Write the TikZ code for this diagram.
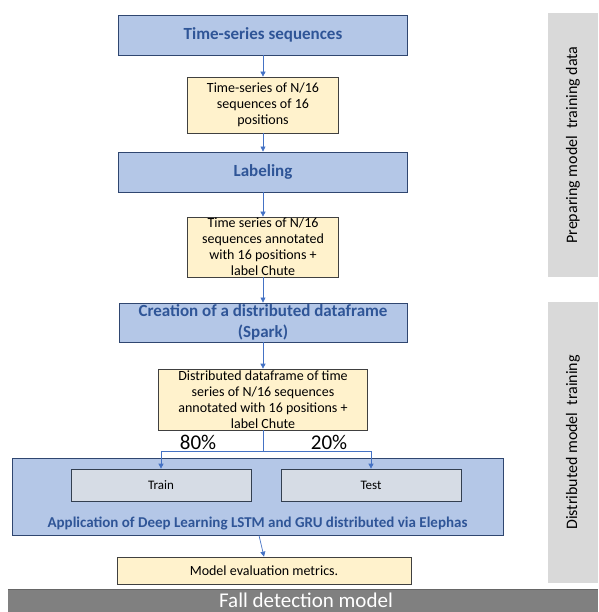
\documentclass[tikz,border=0pt]{standalone}
\usepackage{fontspec}
\setmainfont{Carlito}
\usetikzlibrary{arrows.meta}
\definecolor{bluefill}{HTML}{B4C7E7}
\definecolor{blueline}{HTML}{2F4670}
\definecolor{bluetext}{HTML}{2F5597}
\definecolor{yelfill}{HTML}{FFF2CC}
\definecolor{yelline}{HTML}{404040}
\definecolor{grayfill}{HTML}{D6DCE5}
\definecolor{grayline}{HTML}{333F50}
\definecolor{panelfill}{HTML}{D9D9D9}
\definecolor{barfill}{HTML}{808080}
\definecolor{arrowcol}{HTML}{4472C4}
\begin{document}
\begin{tikzpicture}[x=1pt,y=-1pt,
  bluebox/.style={draw=blueline, fill=bluefill, line width=0.9pt, inner sep=0pt, align=center,
    text=bluetext, font=\bfseries\fontsize{17}{21}\selectfont},
  yelbox/.style={draw=yelline, fill=yelfill, line width=0.7pt, inner sep=0pt, align=center,
    font=\fontsize{14}{16}\selectfont},
  graybox/.style={draw=grayline, fill=grayfill, line width=0.7pt, inner sep=0pt, align=center,
    font=\fontsize{13}{15}\selectfont},
  panel/.style={fill=panelfill, inner sep=0pt},
  paneltext/.style={rotate=90, font=\fontsize{16}{18}\selectfont},
  conn/.style={draw=arrowcol, line width=0.7pt},
  arr/.style={conn, -{Triangle[width=5pt,length=5pt]}},
  pct/.style={font=\fontsize{21}{22}\selectfont}
]
\useasboundingbox (0,0) rectangle (598,612);
% side panels
\node[panel, minimum width=50, minimum height=264] (p1) at (573,145) {};
\node[paneltext] (p1t) at (p1.center) {Preparing model\ \ training data};
\node[panel, minimum width=50, minimum height=281] (p2) at (573,442.5) {};
\node[paneltext] (p2t) at (p2.center) {Distributed model\ \ training};
% flow
\node[bluebox, minimum width=289, minimum height=40] (b1) at (263,35) {Time-series sequences};
\node[yelbox, minimum width=151, minimum height=56] (b2) at (263,105) {Time-series of N/16\\sequences of 16\\positions};
\node[bluebox, minimum width=289, minimum height=40] (b3) at (263,172) {Labeling};
\node[yelbox, minimum width=151, minimum height=60] (b4) at (263,247) {Time series of N/16\\sequences annotated\\with 16 positions +\\label Chute};
\node[bluebox, minimum width=288, minimum height=39] (b5) at (263,322.5) {Creation of a distributed dataframe\\(Spark)};
\node[yelbox, minimum width=209, minimum height=61] (b6) at (263,399.5) {Distributed dataframe of time\\series of N/16 sequences\\annotated with 16 positions +\\label Chute};
\node[pct] (l80) at (198,442) {80\%};
\node[pct] (l20) at (329,442) {20\%};
\node[bluebox, minimum width=491, minimum height=77] (big) at (257.5,496.5) {};
\node[graybox, minimum width=180, minimum height=32] (train) at (161,485) {Train};
\node[graybox, minimum width=180, minimum height=32] (test) at (371,485) {Test};
\node[text=bluetext, font=\bfseries\fontsize{15}{17}\selectfont] (app) at (257.5,523) {Application of Deep Learning LSTM and GRU distributed via Elephas};
\node[yelbox, minimum width=294, minimum height=27] (eval) at (264,570.5) {Model evaluation metrics.};
\node[fill=barfill, minimum width=590, minimum height=22, inner sep=0pt] (bar) at (303,601) {};
\node[text=white, inner sep=0pt, font=\fontsize{21}{21}\selectfont] (bart) at (306,600) {Fall detection model};
\draw[draw=gray!80!black, line width=0.8pt] (bar.north west) -- (bar.north east);
% connectors
\draw[arr] (b1) -- (b2);
\draw[arr] (b2) -- (b3);
\draw[arr] (b3) -- (b4);
\draw[arr] (b4) -- (b5);
\draw[arr] (b5) -- (b6);
\draw[conn] (b6.south) -- ++(0,21) coordinate (split);
\draw[arr] (split) -| (train.north);
\draw[arr] (split) -| (test.north);
\draw[arr] ([xshift=1.5pt]big.south) -- (eval.north);
\end{tikzpicture}
\end{document}
